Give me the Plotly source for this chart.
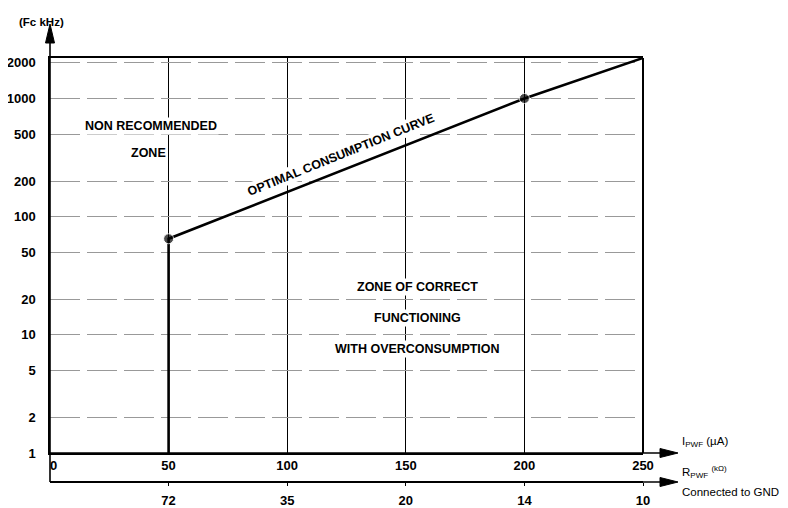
import math
import plotly.graph_objects as go

# ---- data ----
i_pwf_ticks = [0, 50, 100, 150, 200, 250]
i_pwf_labels = ["\u00a0\u00a00", "50", "100", "150", "200", "250"]
r_pwf_ticks = [50, 100, 150, 200, 250]
r_pwf_labels = ["72", "35", "20", "14", "10"]
fc_ticks = [1, 2, 5, 10, 20, 50, 100, 200, 500, 1000, 2000]
fc_labels = ["1", "2", "5", "10", "20", "50", "100", "200", "500", "1000", "2000"]

curve_i = [50, 50, 200, 250]
curve_fc = [1, 65, 1000, 2200]
curve_marker = [0, 10, 10, 0]

FONT = "Liberation Sans, Arial, sans-serif"

# the page body has an 8px margin, so lay out in reference pixels minus 8
OFF = 8
W, H = 788 - 2 * OFF, 508 - OFF
X_LEFT, X_RIGHT = 50, 643          # reference pixels
Y_TOP, Y_MAIN, Y_SEC = 58, 453, 482
L = X_LEFT - OFF
R = W - (X_RIGHT - OFF)
T = Y_TOP - OFF
B = H - (Y_SEC - OFF)
plot_w = W - L - R
plot_h = H - T - B
ydom0 = (Y_SEC - Y_MAIN) / plot_h


def px(xr):
    return (xr - X_LEFT) / plot_w


def py(yr):
    return (Y_SEC - yr) / plot_h


TICKFONT = dict(family=FONT, size=13, color="black", weight="bold")
ZONEFONT = dict(family=FONT, size=12.5, color="black", weight="bold")
SIDEFONT = dict(family=FONT, size=11.5, color="black")

fig = go.Figure()
fig.add_trace(go.Scatter(
    x=curve_i, y=curve_fc, mode="lines+markers",
    line=dict(color="black", width=2.6),
    marker=dict(color="black", size=curve_marker),
    cliponaxis=False, showlegend=False, hoverinfo="skip",
))
# dummy trace so the resistor axis is drawn
fig.add_trace(go.Scatter(x=[None], y=[None], xaxis="x2", yaxis="y",
                         showlegend=False, hoverinfo="skip"))

fig.update_layout(
    width=W, height=H,
    margin=dict(l=L, r=R, t=T, b=B, autoexpand=False),
    paper_bgcolor="white", plot_bgcolor="white",
    font=dict(family=FONT, size=12, color="black"),
    xaxis=dict(
        range=[0, 250], domain=[0, 1], anchor="y",
        tickvals=i_pwf_ticks, ticktext=i_pwf_labels,
        showgrid=True, gridcolor="black", gridwidth=1,
        showline=True, linecolor="black", linewidth=1.5, mirror=True,
        ticks="", zeroline=False, automargin=False,
        tickfont=TICKFONT,
    ),
    xaxis2=dict(
        range=[0, 250], overlaying="x", anchor="free", position=0,
        side="bottom",
        tickvals=r_pwf_ticks, ticktext=r_pwf_labels,
        showgrid=False, showline=True, linecolor="black", linewidth=1.5,
        ticks="outside", ticklen=3, tickcolor="black", zeroline=False,
        automargin=False, ticklabelstandoff=4,
        tickfont=TICKFONT,
    ),
    yaxis=dict(
        type="log", range=[0, math.log10(2200)], domain=[ydom0, 1],
        anchor="x",
        tickvals=fc_ticks, ticktext=fc_labels,
        showgrid=True, gridcolor="#999999", gridwidth=1, griddash="30px,7px",
        showline=True, linecolor="black", linewidth=1.5, mirror=False,
        ticks="", zeroline=False, automargin=False, ticklabelstandoff=10,
        tickfont=TICKFONT,
    ),
)

AX_LINE = dict(color="black", width=1.6)
# right border at 250 (thicker)
fig.add_shape(type="line", xref="paper", yref="paper", x0=1, x1=1,
              y0=ydom0, y1=1, line=dict(color="black", width=2))
# vertical axis extended down to the resistor axis and up to its arrow
fig.add_shape(type="line", xref="paper", yref="paper", x0=0, x1=0,
              y0=0, y1=py(40), line=AX_LINE)
# horizontal axes extended to their arrows
for yref_px in (Y_MAIN, Y_SEC):
    fig.add_shape(type="line", xref="paper", yref="paper", x0=0, x1=px(664),
                  y0=py(yref_px), y1=py(yref_px), line=AX_LINE)
    fig.add_shape(type="path", xref="paper", yref="paper",
                  path=(f"M {px(678)},{py(yref_px)} "
                        f"L {px(660)},{py(yref_px - 4.5)} "
                        f"L {px(660)},{py(yref_px + 4.5)} Z"),
                  fillcolor="black", line=dict(color="black", width=1))
fig.add_shape(type="path", xref="paper", yref="paper",
              path=(f"M {px(50)},{py(24)} "
                    f"L {px(45.5)},{py(43)} "
                    f"L {px(54.5)},{py(43)} Z"),
              fillcolor="black", line=dict(color="black", width=1))

ann = []
# axis titles
ann.append(dict(xref="paper", yref="paper", x=px(66), y=py(14),
                xanchor="right", text="(Fc kHz)", showarrow=False,
                font=dict(family=FONT, size=11.5, color="black", weight="bold")))
ann.append(dict(xref="paper", yref="paper", x=px(680), y=py(451),
                xanchor="left", text="I<sub>PWF</sub> (µA)", showarrow=False,
                font=SIDEFONT))
ann.append(dict(xref="paper", yref="paper", x=px(680), y=py(482),
                xanchor="left", text="R<sub>PWF</sub> <sup>(kΩ)</sup>",
                showarrow=False, font=SIDEFONT))
ann.append(dict(xref="paper", yref="paper", x=px(680), y=py(500),
                xanchor="left", text="Connected to GND", showarrow=False,
                font=SIDEFONT))

# zone labels (white background breaks the grid like the original)
for txt, xv, yv in [
    ("NON RECOMMENDED", 42.5, 584),
    ("ZONE", 41.5, 345),
    ("ZONE OF CORRECT", 155, 25.4),
    ("FUNCTIONING", 155, 13.9),
    ("WITH OVERCONSUMPTION", 155, 7.6),
]:
    ann.append(dict(x=xv, y=math.log10(yv), xref="x", yref="y", text=txt,
                    showarrow=False, bgcolor="white", font=ZONEFONT))

ann.append(dict(x=122.5, y=math.log10(330), xref="x", yref="y",
                text="OPTIMAL CONSUMPTION CURVE", textangle=-22,
                showarrow=False, bgcolor="white", font=ZONEFONT))

fig.update_layout(annotations=ann)

fig.write_html("out.html")
